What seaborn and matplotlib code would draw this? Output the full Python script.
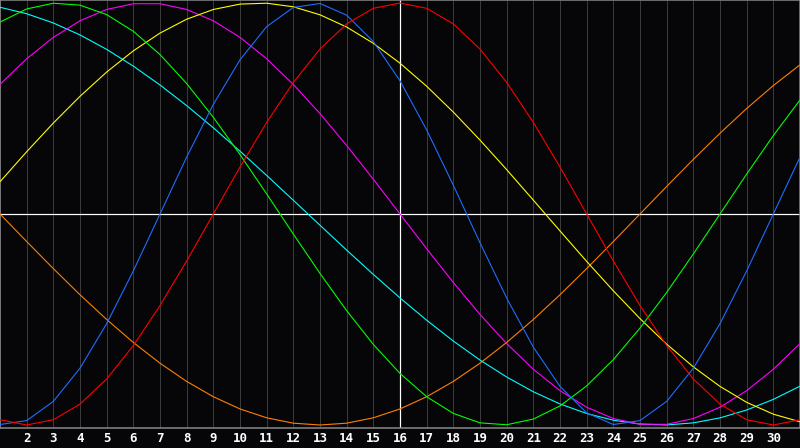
import pandas as pd
import matplotlib
matplotlib.use("Agg")
import matplotlib.pyplot as plt
import seaborn as sns

# Days of the month shown on the x axis
days = list(range(1, 32))
tick_days = list(range(2, 31))
today = 16

# Cycle values, one per day (1..31)
red = [-0.9749, -1.0, -0.9749, -0.9010, -0.7818, -0.6235, -0.4339, -0.2225, 0.0,
       0.2225, 0.4339, 0.6235, 0.7818, 0.9010, 0.9749, 1.0, 0.9749, 0.9010, 0.7818,
       0.6235, 0.4339, 0.2225, 0.0, -0.2225, -0.4339, -0.6235, -0.7818, -0.9010,
       -0.9749, -1.0, -0.9749]
blue = [-0.9977, -0.9791, -0.8880, -0.7308, -0.5196, -0.2698, 0.0, 0.2698, 0.5196,
        0.7308, 0.8880, 0.9791, 0.9977, 0.9423, 0.8170, 0.6311, 0.3984, 0.1362,
        -0.1362, -0.3984, -0.6311, -0.8170, -0.9423, -0.9977, -0.9791, -0.8880,
        -0.7308, -0.5196, -0.2698, 0.0, 0.2698]
green = [0.9096, 0.9718, 0.9989, 0.9898, 0.9450, 0.8660, 0.7557, 0.6182, 0.4582,
         0.2817, 0.0951, -0.0951, -0.2817, -0.4582, -0.6182, -0.7557, -0.8660,
         -0.9450, -0.9898, -0.9989, -0.9718, -0.9096, -0.8146, -0.6901, -0.5406,
         -0.3717, -0.1893, 0.0, 0.1893, 0.3717, 0.5406]
cyan = [0.9798, 0.9492, 0.9053, 0.8487, 0.7802, 0.7008, 0.6115, 0.5136, 0.4085,
        0.2977, 0.1827, 0.0651, -0.0533, -0.1711, -0.2864, -0.3977, -0.5034,
        -0.6021, -0.6922, -0.7726, -0.8425, -0.9002, -0.9454, -0.9773, -0.9955,
        -0.9997, -0.9899, -0.9662, -0.9289, -0.8786, -0.8159]
magenta = [0.6142, 0.7357, 0.8372, 0.9158, 0.9694, 0.9966, 0.9966, 0.9694, 0.9158,
           0.8372, 0.7357, 0.6142, 0.4759, 0.3247, 0.1646, 0.0, -0.1646, -0.3247,
           -0.4759, -0.6142, -0.7357, -0.8372, -0.9158, -0.9694, -0.9966, -0.9966,
           -0.9694, -0.9158, -0.8372, -0.7357, -0.6142]
yellow = [0.1528, 0.2951, 0.4311, 0.5578, 0.6728, 0.7733, 0.8574, 0.9232, 0.9693,
          0.9948, 0.9990, 0.9820, 0.9441, 0.8860, 0.8090, 0.7147, 0.6054, 0.4830,
          0.3504, 0.2103, 0.0657, -0.0802, -0.2245, -0.3640, -0.4958, -0.6169,
          -0.7245, -0.8171, -0.8926, -0.9487, -0.9847]
orange = [0.0, -0.1305, -0.2588, -0.3827, -0.5, -0.6088, -0.7071, -0.7934, -0.8660,
          -0.9239, -0.9659, -0.9914, -1.0, -0.9914, -0.9659, -0.9239, -0.8660,
          -0.7934, -0.7071, -0.6088, -0.5, -0.3827, -0.2588, -0.1305, 0.0, 0.1305,
          0.2588, 0.3827, 0.5, 0.6088, 0.7071]

series = {
    "orange": (orange, "#ff8000"),
    "cyan": (cyan, "#00ffff"),
    "magenta": (magenta, "#ff00ff"),
    "yellow": (yellow, "#ffff00"),
    "green": (green, "#00ff00"),
    "blue": (blue, "#1e6eff"),
    "red": (red, "#ff0000"),
}

BG = "#060609"
PX = 0.72  # one pixel in points at 100 dpi


def draw_chart():
    sns.set_theme(style="dark", rc={"axes.facecolor": BG, "figure.facecolor": BG})
    plt.rcParams["font.family"] = ["DejaVu Sans Mono", "DejaVu Sans"]

    fig = plt.figure(figsize=(8, 4.48), dpi=100)
    ax = fig.add_axes([0, 20 / 448, 1, 428 / 448])
    ax.set_facecolor(BG)

    # day grid
    for d in days:
        ax.axvline(d, color="#3a3a3a", lw=PX, zorder=1)

    ax.axhline(0, color="white", lw=PX * 1.2, zorder=2)
    ax.axvline(today, color="white", lw=PX * 1.2, zorder=2)

    for name, (vals, col) in series.items():
        sns.lineplot(x=days, y=vals, color=col, lw=PX * 1.1, ax=ax, zorder=3)

    ax.set_xlim(1, 31)
    ax.set_ylim(-214 / 211, 214 / 211)
    ax.set_xticks(tick_days)
    ax.set_xticklabels([str(d) for d in tick_days], color="white",
                       fontsize=9, fontweight="bold")
    ax.tick_params(axis="x", length=0, pad=3)
    ax.set_yticks([])
    ax.set_xlabel("")
    ax.set_ylabel("")
    ax.grid(False)
    for side in ["left", "top", "bottom", "right"]:
        ax.spines[side].set_visible(True)
        ax.spines[side].set_color("#8a8a8a")
        ax.spines[side].set_linewidth(PX * 1.5)

    fig.savefig("out.png", dpi=100, facecolor=BG)


def main():
    draw_chart()


if __name__ == "__main__":
    main()
